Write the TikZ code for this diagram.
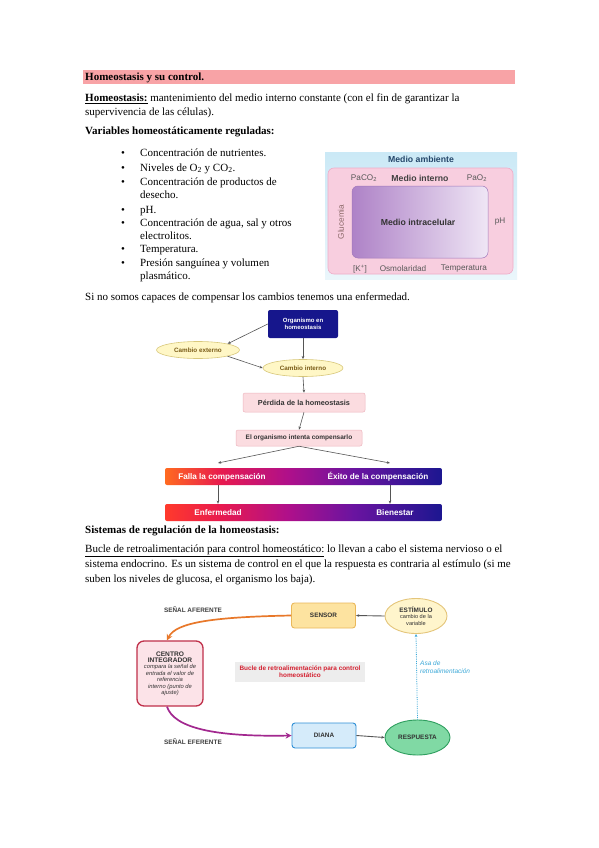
\documentclass[tikz,border=0pt]{standalone}
\usepackage{fontspec}
\setmainfont{Liberation Serif}
\setsansfont{Liberation Sans}
\usetikzlibrary{arrows.meta, shapes.geometric}

\definecolor{bandpink}{HTML}{F8A3A6}
\definecolor{navybox}{HTML}{16168C}
\definecolor{paleyellow}{HTML}{FFF7C6}
\definecolor{yellowline}{HTML}{D8C87C}
\definecolor{ovaltext}{HTML}{7A5C18}
\definecolor{palepink}{HTML}{FBDCE0}
\definecolor{pinkline}{HTML}{EDB5BE}
\definecolor{arrowgray}{HTML}{555555}
\definecolor{barorange}{HTML}{FF6A20}
\definecolor{barred}{HTML}{FF3A2C}
\definecolor{barpinkred}{HTML}{E81A4E}
\definecolor{barmagenta}{HTML}{B0108A}
\definecolor{barpurple}{HTML}{6A14A0}
\definecolor{barblue}{HTML}{1C1690}
\definecolor{skyblue}{HTML}{CBE9F6}
\definecolor{skypale}{HTML}{EAF6FB}
\definecolor{medpink}{HTML}{F8CEDF}
\definecolor{medpinkline}{HTML}{EFACC8}
\definecolor{lilacdark}{HTML}{AE82C7}
\definecolor{lilaclight}{HTML}{EFE6F5}
\definecolor{lilacline}{HTML}{A077BA}
\definecolor{ambtext}{HTML}{24466A}
\definecolor{sensorfill}{HTML}{FDE3A0}
\definecolor{sensorline}{HTML}{EAB85A}
\definecolor{estimfill}{HTML}{FFF5CC}
\definecolor{estimline}{HTML}{E4C57A}
\definecolor{centrofill}{HTML}{FCE3E8}
\definecolor{centroline}{HTML}{C0304A}
\definecolor{dianafill}{HTML}{D5EBFA}
\definecolor{dianaline}{HTML}{2E8FD6}
\definecolor{respfill}{HTML}{80D9A4}
\definecolor{respline}{HTML}{2E9E5E}
\definecolor{afferent}{HTML}{E8782A}
\definecolor{efferent}{HTML}{A2288F}
\definecolor{loopblue}{HTML}{3AA8D8}
\definecolor{labelred}{HTML}{D42030}

\pgfdeclarehorizontalshading{fallshade}{100bp}{color(0bp)=(barorange); color(25bp)=(barorange);
  color(35bp)=(barpinkred); color(47bp)=(barmagenta); color(59bp)=(barpurple); color(75bp)=(barblue); color(100bp)=(barblue)}
\pgfdeclarehorizontalshading{enfshade}{100bp}{color(0bp)=(barred); color(25bp)=(barred);
  color(35bp)=(barpinkred); color(47bp)=(barmagenta); color(59bp)=(barpurple); color(75bp)=(barblue); color(100bp)=(barblue)}

\newcommand{\smallit}{\mdseries\itshape\fontsize{5.8}{6.4}\selectfont}
\newcommand{\smallup}{\mdseries\fontsize{5.6}{6.3}\selectfont}
\newcommand{\capsbf}{\bfseries\fontsize{6.6}{7.4}\selectfont}

\tikzset{
  body/.style={anchor=base west, inner sep=0pt, font=\fontsize{11}{13}\selectfont},
  bul/.style={anchor=base, inner sep=0pt, font=\fontsize{11}{13}\selectfont},
  figtxt/.style={inner sep=0pt, font=\sffamily\fontsize{8.2}{9}\selectfont, text=black!65},
  figbold/.style={inner sep=0pt, font=\sffamily\bfseries\fontsize{8.7}{9}\selectfont},
  flowbox/.style={draw=pinkline, fill=palepink, rounded corners=2pt, line width=0.5pt,
    font=\sffamily\bfseries\fontsize{7.3}{8}\selectfont, text=black!80, inner sep=0pt},
  flowoval/.style={ellipse, draw=yellowline, fill=paleyellow, line width=0.6pt,
    font=\sffamily\bfseries\fontsize{6.3}{7}\selectfont, text=ovaltext, inner sep=0pt},
  gradbar/.style={rounded corners=2pt, minimum width=277, minimum height=17, inner sep=0pt},
  bartxt/.style={inner sep=0pt, text=white, font=\sffamily\bfseries\fontsize{8.2}{9}\selectfont},
  arr/.style={-{Stealth[length=3.2pt,width=2.6pt]}, draw=arrowgray, line width=0.6pt},
  capt/.style={inner sep=0pt, text=black!75, font=\sffamily\bfseries\fontsize{6.4}{7}\selectfont},
  fbbox/.style={rounded corners=3pt, minimum width=64, minimum height=25, line width=0.9pt,
    inner sep=0pt, font=\sffamily\bfseries\fontsize{6.4}{7}\selectfont, text=black!80},
  fboval/.style={ellipse, minimum width=64, minimum height=35, line width=0.9pt, inner sep=0pt,
    align=center, font=\sffamily\bfseries\fontsize{6.4}{7}\selectfont, text=black!80},
  curvearr/.style={-{Stealth[length=6pt,width=6pt]}, line width=1.7pt}
}

\begin{document}
\begin{tikzpicture}[x=1pt,y=-1pt]
\useasboundingbox (0,0) rectangle (599,848);
\fill[white] (0,0) rectangle (599,848);

% header and text
\node[fill=bandpink, minimum width=432, minimum height=14, anchor=north west, inner sep=0pt] (band) at (83,70) {};
\node[body] (title) at (85,81) {\textbf{Homeostasis y su control.}};
\node[body] (defa) at (85,102) {\underline{\textbf{Homeostasis:}} mantenimiento del medio interno constante (con el fin de garantizar la};
\node[body] (defb) at (85,116) {supervivencia de las células).};
\node[body] (varhead) at (85,135) {\textbf{Variables homeostáticamente reguladas:}};

\node[bul] (b1) at (123,157) {\textbullet};
\node[body] (item1) at (140,157) {Concentración de nutrientes.};
\node[bul] (b2) at (123,171) {\textbullet};
\node[body] (item2) at (140,171) {Niveles de O\textsubscript{2} y CO\textsubscript{2}.};
\node[bul] (b3) at (123,185) {\textbullet};
\node[body] (item3a) at (140,185) {Concentración de productos de};
\node[body] (item3b) at (140,198) {desecho.};
\node[bul] (b4) at (123,213) {\textbullet};
\node[body] (item4) at (140,213) {pH.};
\node[bul] (b5) at (123,226) {\textbullet};
\node[body] (item5a) at (140,226) {Concentración de agua, sal y otros};
\node[body] (item5b) at (140,239) {electrolitos.};
\node[bul] (b6) at (123,252) {\textbullet};
\node[body] (item6) at (140,252) {Temperatura.};
\node[bul] (b7) at (123,266) {\textbullet};
\node[body] (item7a) at (140,266) {Presión sanguínea y volumen};
\node[body] (item7b) at (140,279) {plasmático.};

% medio ambiente figure
\shade[top color=skyblue, bottom color=skypale] (325,152) rectangle (517,279);
\filldraw[fill=medpink, draw=medpinkline, line width=0.6pt, rounded corners=6pt] (328,168) rectangle (513,274);
\shade[left color=lilacdark, right color=lilaclight, rounded corners=6pt] (352,186) rectangle (488,258);
\draw[lilacline, line width=0.5pt, rounded corners=6pt] (352,186) rectangle (488,258);
\node[figbold, text=ambtext] (ambiente) at (421,159) {Medio ambiente};
\node[figbold, text=black!75] (interno) at (420,178) {Medio interno};
\node[figtxt] (paco) at (364,178) {PaCO\textsubscript{2}};
\node[figtxt] (pao) at (477,178) {PaO\textsubscript{2}};
\node[figtxt, rotate=90, text=pink!55!black] (gluc) at (341,222) {Glucemia};
\node[figtxt] (ph) at (500,222) {pH};
\node[figtxt] (kplus) at (360,269) {[K\textsuperscript{+}]};
\node[figtxt] (osmol) at (403,269) {Osmolaridad};
\node[figtxt] (temp) at (464,269) {Temperatura};
\node[figbold, text=black!80] (intra) at (418,222) {Medio intracelular};

\node[body] (sino) at (85,300) {Si no somos capaces de compensar los cambios tenemos una enfermedad.};

% first flowchart
\node[fill=navybox, rounded corners=2pt, minimum width=70, minimum height=28, inner sep=0pt, align=center,
  text=white, font=\sffamily\bfseries\fontsize{6}{7.2}\selectfont] (org) at (303,324) {Organismo en\\homeostasis};
\node[flowoval, minimum width=83, minimum height=17] (cext) at (198,350) {Cambio externo};
\node[flowoval, minimum width=80, minimum height=17] (cint) at (303,368) {Cambio interno};
\node[flowbox, minimum width=122, minimum height=19] (perd) at (304,402.5) {Pérdida de la homeostasis};
\node[flowbox, minimum width=126, minimum height=16, font=\sffamily\bfseries\fontsize{6.5}{7}\selectfont] (comp) at (299,438) {El organismo intenta compensarlo};
\coordinate (tipl) at (218,463);
\coordinate (tipr) at (390,463);
\node[gradbar, shading=fallshade] (fallbar) at (303.5,476.5) {};
\node[bartxt] (falla) at (222,477) {Falla la compensación};
\node[bartxt] (exito) at (378,477) {Éxito de la compensación};
\node[gradbar, shading=enfshade] (enfbar) at (303.5,512.5) {};
\node[bartxt] (enf) at (218,513) {Enfermedad};
\node[bartxt] (bien) at (395,513) {Bienestar};

\draw[arr] (org.west) -- (cext.north east);
\draw[arr] (org.south) -- (cint.north);
\draw[arr] (cext.south east) -- (cint.west);
\draw[arr] (cint.south) -- (perd.north);
\draw[arr] (perd.south) -- (comp.north);
\draw[arr] (comp.south) -- (tipl);
\draw[arr] (comp.south) -- (tipr);
\draw[arr] (fallbar.south -| tipl) -- (enfbar.north -| tipl);
\draw[arr] (fallbar.south -| tipr) -- (enfbar.north -| tipr);

% second part text
\node[body] (sishead) at (85,533) {\textbf{Sistemas de regulación de la homeostasis:}};
\node[body] (bucla) at (85,552) {\underline{Bucle de retroalimentación para control homeostático:} lo llevan a cabo el sistema nervioso o el};
\node[body] (buclb) at (85,567) {sistema endocrino. Es un sistema de control en el que la respuesta es contraria al estímulo (si me};
\node[body] (buclc) at (85,582) {suben los niveles de glucosa, el organismo los baja).};

% feedback loop
\coordinate (cdot) at (167,0);
\node[fbbox, fill=sensorfill, draw=sensorline] (sensor) at (323.5,615.5) {SENSOR};
\node[fboval, fill=estimfill, draw=estimline, minimum width=62] (estim) at (416,616)
  {ESTÍMULO\\[-1pt]\smallup cambio de la\\\smallup variable};
\node[rounded corners=7pt, minimum width=66, minimum height=65, fill=centrofill, draw=centroline,
  line width=1.3pt, inner sep=0pt, align=center, text=black!80,
  font=\sffamily\fontsize{5.8}{6.4}\selectfont] (centro) at (170,673.5)
  {\capsbf CENTRO\\\capsbf INTEGRADOR\\\smallit compara la señal de\\\smallit entrada el valor de\\\smallit referencia\\\smallit interno (punto de\\\smallit ajuste)};
\node[fill=black!7, minimum width=130, minimum height=20, inner sep=0pt, align=center, text=labelred,
  font=\sffamily\bfseries\fontsize{6.4}{7.2}\selectfont] (buclelbl) at (300,672)
  {Bucle de retroalimentación para control\\homeostático};
\node[fbbox, fill=dianafill, draw=dianaline] (diana) at (324,735.5) {DIANA};
\node[fboval, fill=respfill, draw=respline, minimum width=65] (resp) at (417.5,737.5) {RESPUESTA};
\node[capt] (afer) at (193,610) {SEÑAL AFERENTE};
\node[capt] (efer) at (193,742) {SEÑAL EFERENTE};
\node[inner sep=0pt, anchor=west, align=left, text=loopblue, font=\sffamily\itshape\fontsize{6.5}{7.5}\selectfont] (asa) at (420,667) {Asa de\\retroalimentación};

\draw[arr, line width=0.9pt] (estim.west) -- (sensor.east);
\draw[arr, line width=0.9pt] (diana.east) -- (resp.west);
\draw[curvearr, afferent] (sensor.west) .. controls (215,617) and (176,622) .. (centro.north -| cdot);
\draw[curvearr, efferent] (centro.south -| cdot) .. controls (174,728) and (215,737) .. (diana.west);
\draw[-{Stealth[length=3pt,width=2.6pt]}, loopblue, line width=0.8pt, densely dotted] (resp.north) -- (estim.south);
\end{tikzpicture}
\end{document}
